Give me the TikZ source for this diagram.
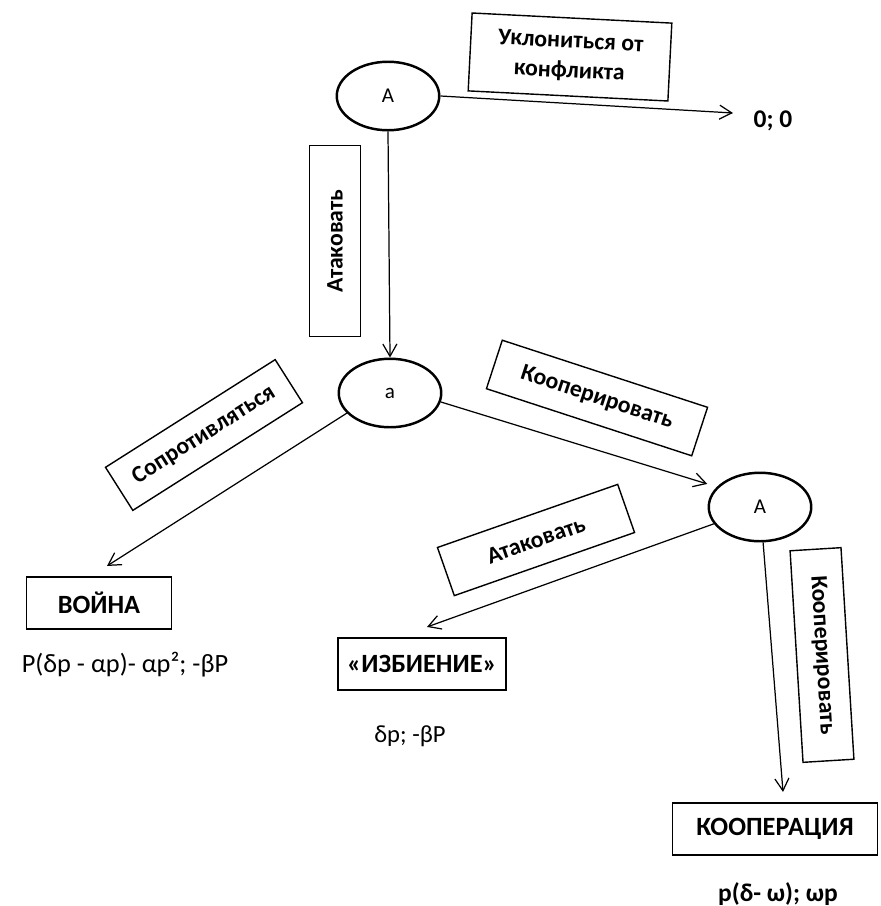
\documentclass[tikz,border=0pt]{standalone}
\usepackage{fontspec}
\setmainfont{Carlito}
\usetikzlibrary{arrows.meta,shapes.geometric}
\begin{document}
\begin{tikzpicture}[x=0.02cm,y=-0.02cm,
    player/.style={draw,ellipse,line width=1.4pt,minimum width=2.05cm,minimum height=1.37cm,inner sep=0pt,font=\fontsize{12}{14}\selectfont},
    move/.style={draw,line width=0.8pt,minimum height=1.02cm,inner sep=0pt,align=center,font=\bfseries\fontsize{13.5}{17}\selectfont},
    outcome/.style={draw,line width=0.9pt,minimum height=1.05cm,inner sep=0pt,font=\bfseries\fontsize{15}{17}\selectfont},
    payoff/.style={font=\fontsize{14}{16}\selectfont},
    payoffb/.style={font=\bfseries\fontsize{14.5}{16}\selectfont},
    arr/.style={line width=0.7pt,-{Straight Barb[length=7pt,width=8pt]}}]
        \useasboundingbox (0,0) rectangle (880,906);

        % Draw the players (decision nodes)
        \node[player] (A1) at (388,96) {A};
        \node[player] (a2) at (390,393) {a};
        \node[player] (A3) at (760,507) {A};

        % Draw the moves (rotated labels)
        \node[move,minimum width=4cm,minimum height=1.56cm,rotate=-2.9] (lAvoid) at (570,57) {Уклониться от\\конфликта};
        \node[move,minimum width=3.82cm,rotate=90] (lAtt1) at (335,241) {Атаковать};
        \node[move,minimum width=4.02cm,rotate=32.4] (lResist) at (204,435) {Сопротивляться};
        \node[move,minimum width=4.32cm,rotate=-18.1] (lCoop1) at (597,398) {Кооперировать};
        \node[move,minimum width=3.82cm,rotate=19.3] (lAtt2) at (536,540) {Атаковать};
        \node[move,minimum width=4.24cm,rotate=-86.5] (lCoop2) at (822,655) {Кооперировать};

        % Draw the outcomes
        \node[outcome,minimum width=2.9cm] (voyna) at (99,603) {ВОЙНА};
        \node[outcome,minimum width=3.36cm] (izb) at (422,664) {«ИЗБИЕНИЕ»};
        \node[outcome,minimum width=4.1cm] (koop) at (775,829) {КООПЕРАЦИЯ};

        % Payoffs
        \node[payoffb] (p0) at (773,121) {0; 0};
        \node[payoff,font=\fontsize{15}{17}\selectfont] (pVoyna) at (125,665) {P(δp - αp)- αp²; -βP};
        \node[payoff] (pIzb) at (410,736) {δp; -βP};
        \node[payoffb] (pKoop) at (778,894) {p(δ- ω); ωp};

        % Draw the arrows
        \coordinate (end0) at (733,113);
        \draw[arr] (A1.east) -- (end0);
        \draw[arr] (A1.south) -- (a2.north);
        \draw[arr] (a2.205) -- ([shift={(8,-10)}]voyna.north);
        \draw[arr,shorten >=0.2cm] (a2.350) -- (A3.155);
        \draw[arr] (A3.200) -- ([shift={(5,-10)}]izb.north);
        \draw[arr] (A3.275) -- ([shift={(8,-10)}]koop.north);
\end{tikzpicture}
\end{document}
